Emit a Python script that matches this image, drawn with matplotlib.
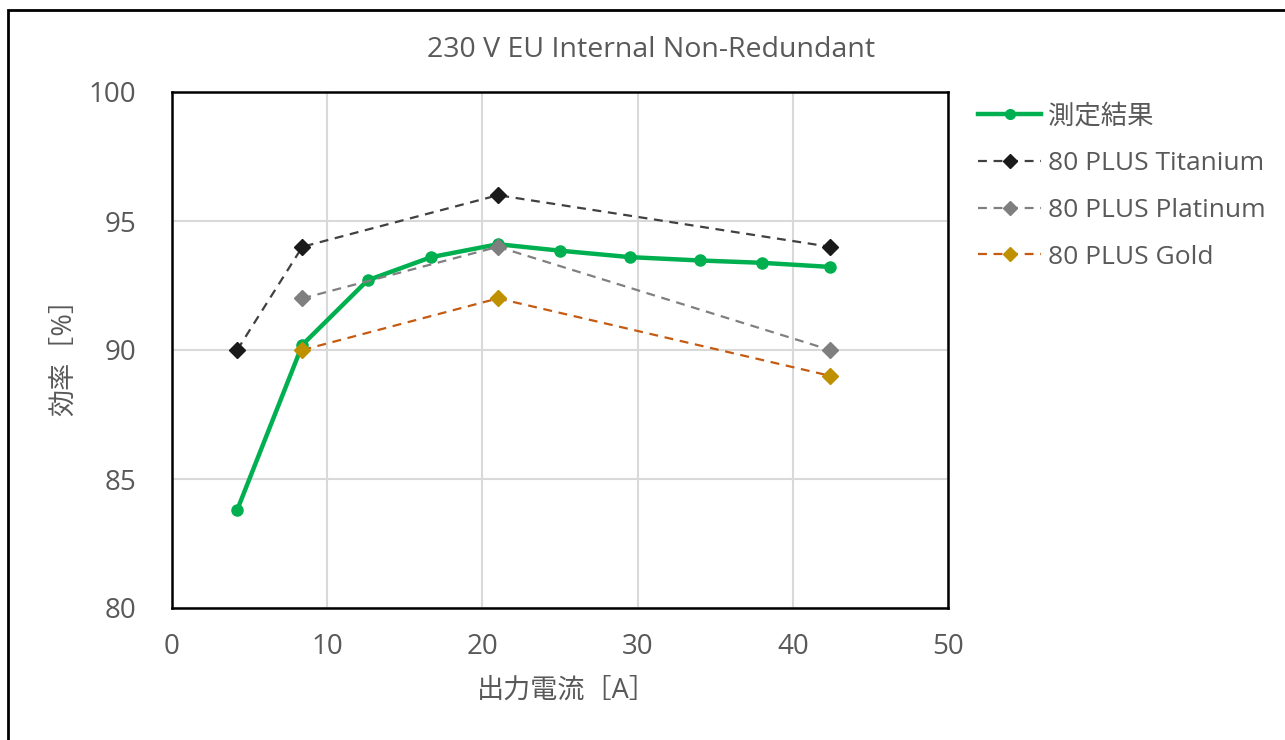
import matplotlib
matplotlib.use("Agg")
import matplotlib.pyplot as plt
from matplotlib.patches import Rectangle

plt.rcParams['font.family'] = ['Open Sans', 'Noto Sans CJK JP', 'DejaVu Sans']

title = "230 V EU Internal Non-Redundant"
xlabel = "出力電流［A］"
ylabel = "効率［%］"

meas_x = [4.2, 8.4, 12.6, 16.7, 21.0, 25.0, 29.5, 34.0, 38.0, 42.4]
meas_y = [83.8, 90.2, 92.7, 93.6, 94.1, 93.85, 93.6, 93.47, 93.38, 93.22]

ti_x = [4.2, 8.4, 21.0, 42.4]
ti_y = [90, 94, 96, 94]
pt_x = [8.4, 21.0, 42.4]
pt_y = [92, 94, 90]
au_x = [8.4, 21.0, 42.4]
au_y = [90, 92, 89]

xticks = [0, 10, 20, 30, 40, 50]
yticks = [80, 85, 90, 95, 100]

W, H = 1285, 740
fig = plt.figure(figsize=(W / 100, H / 100), dpi=100)
ax = fig.add_axes([172 / W, 1 - 608 / H, (948 - 172) / W, (608 - 92) / H])

txt = '#595959'

ax.plot(meas_x, meas_y, color='#00B050', lw=3.2, marker='o', ms=8,
        label='測定結果', zorder=3)
ax.plot(ti_x, ti_y, color='#404040', lw=1.6, ls=(0, (4, 3)), marker='D', ms=8.5,
        mfc='#1a1a1a', mec='#1a1a1a', label='80 PLUS Titanium', zorder=4)
ax.plot(pt_x, pt_y, color='#808080', lw=1.6, ls=(0, (4, 3)), marker='D', ms=8.5,
        mfc='#7f7f7f', mec='#7f7f7f', label='80 PLUS Platinum', zorder=5)
ax.plot(au_x, au_y, color='#C55A11', lw=1.6, ls=(0, (4, 3)), marker='D', ms=8.5,
        mfc='#BF9000', mec='#BF9000', label='80 PLUS Gold', zorder=6)

ax.set_xlim(0, 50)
ax.set_ylim(80, 100)
ax.set_xticks(xticks)
ax.set_yticks(yticks)
ax.grid(True, color='#d9d9d9', lw=1.5)
ax.set_axisbelow(True)
ax.tick_params(length=0, labelsize=20, labelcolor=txt)
ax.tick_params(axis='x', pad=18)
ax.tick_params(axis='y', pad=26)
for s in ax.spines.values():
    s.set_color('black')
    s.set_linewidth(1.8)

fig.text(651 / W, 1 - 50 / H, title, ha='center', va='center', fontsize=20.5, color=txt)
fig.text(567 / W, 1 - 691 / H, xlabel, ha='center', va='center', fontsize=19.5, color=txt)
fig.text(64 / W, 1 - 350 / H, ylabel, ha='center', va='center', fontsize=19.5,
         color=txt, rotation=90)

leg = fig.legend(loc='upper left', bbox_to_anchor=(978 / W, 1 - 104 / H), frameon=False,
                 fontsize=19, handlelength=2.4, handletextpad=0.25, labelspacing=0.83,
                 borderaxespad=0, borderpad=0)
for t in leg.get_texts():
    t.set_color(txt)
for h in leg.legend_handles:
    h.set_markersize(7)

fig.patches.append(Rectangle((8 / W, -0.05), 1.1, 1 - 10 / H + 0.05, transform=fig.transFigure,
                             fill=False, edgecolor='black', lw=2, clip_on=False))

fig.savefig('out.png', dpi=100)
